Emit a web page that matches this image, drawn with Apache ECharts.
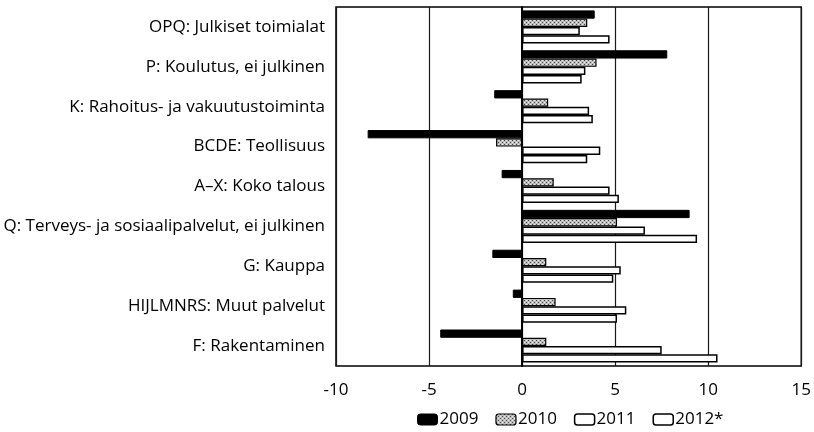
<!DOCTYPE html>
<html>
<head>
<meta charset="utf-8">
<script src="https://cdn.jsdelivr.net/npm/echarts@6/dist/echarts.min.js"></script>
<style>
  html, body { margin: 0; padding: 0; background: #fff; }
  #chart { width: 814px; height: 432px; }
</style>
</head>
<body>
<div id="chart"></div>
<script>
// Industry categories, top to bottom
const categories = [
  'OPQ: Julkiset toimialat',
  'P: Koulutus, ei julkinen',
  'K: Rahoitus- ja vakuutustoiminta',
  'BCDE: Teollisuus',
  'A\u2013X: Koko talous',
  'Q: Terveys- ja sosiaalipalvelut, ei julkinen',
  'G: Kauppa',
  'HIJLMNRS: Muut palvelut',
  'F: Rakentaminen'
];

// Annual change, %, per year
const v2009 = [3.9, 7.8, -1.5, -8.3, -1.1, 9.0, -1.6, -0.5, -4.4];
const v2010 = [3.5, 4.0, 1.4, -1.4, 1.7, 5.1, 1.3, 1.8, 1.3];
const v2011 = [3.1, 3.4, 3.6, 4.2, 4.7, 6.6, 5.3, 5.6, 7.5];
const v2012 = [4.7, 3.2, 3.8, 3.5, 5.2, 9.4, 4.9, 5.1, 10.5];

const seriesNames = ['2009', '2010', '2011', '2012*'];
const xTicks = { min: -10, max: 15, step: 5 };

// Dotted grey fill for the 2010 bars
function dotPattern() {
  const c = document.createElement('canvas');
  c.width = 4; c.height = 4;
  const g = c.getContext('2d');
  g.fillStyle = '#bdbdbd';
  g.fillRect(0, 0, 4, 4);
  g.fillStyle = '#4a4a4a';
  g.fillRect(0, 0, 1, 1);
  g.fillRect(2, 2, 1, 1);
  g.fillStyle = '#eeeeee';
  g.fillRect(2, 0, 1, 1);
  g.fillRect(0, 2, 1, 1);
  return c;
}

const FONT = 'Open Sans';
const chart = echarts.init(document.getElementById('chart'), null, { renderer: 'canvas' });

const styles = [
  { color: '#000', borderColor: '#000', borderWidth: 1 },
  { color: { image: dotPattern(), repeat: 'repeat' }, borderColor: '#000', borderWidth: 1.2 },
  { color: '#fff', borderColor: '#000', borderWidth: 1.5 },
  { color: '#fff', borderColor: '#000', borderWidth: 1.5 }
];
const values = [v2009, v2010, v2011, v2012];

chart.setOption({
  animation: false,
  backgroundColor: '#fff',
  grid: {
    left: 336, right: 9, top: 7, bottom: 66,
    show: true, borderColor: '#000', borderWidth: 1.5,
    containLabel: false
  },
  legend: {
    top: 411,
    left: 417,
    padding: 0,
    itemWidth: 20, itemHeight: 11, itemGap: 17,
    textStyle: { fontFamily: FONT, fontSize: 17, color: '#000', padding: [0, 0, 0, -3] },
    data: seriesNames.map((n, i) => ({ name: n, itemStyle: styles[i] }))
  },
  xAxis: {
    type: 'value',
    min: xTicks.min, max: xTicks.max, interval: xTicks.step,
    axisLine: { show: false },
    axisTick: { show: false },
    splitLine: { show: true, lineStyle: { color: '#1a1a1a', width: 1.2 } },
    axisLabel: { fontFamily: FONT, fontSize: 17, color: '#000', margin: 16 }
  },
  yAxis: {
    type: 'category',
    inverse: true,
    data: categories,
    axisLine: { show: true, onZero: true, lineStyle: { color: '#000', width: 2 } },
    axisTick: { show: false },
    axisLabel: { fontFamily: FONT, fontSize: 17, color: '#000', margin: 11 }
  },
  series: values.map((vals, i) => ({
    name: seriesNames[i],
    type: 'bar',
    data: vals,
    barGap: '0%',
    barCategoryGap: '17%',
    itemStyle: styles[i]
  }))
});
</script>
</body>
</html>
